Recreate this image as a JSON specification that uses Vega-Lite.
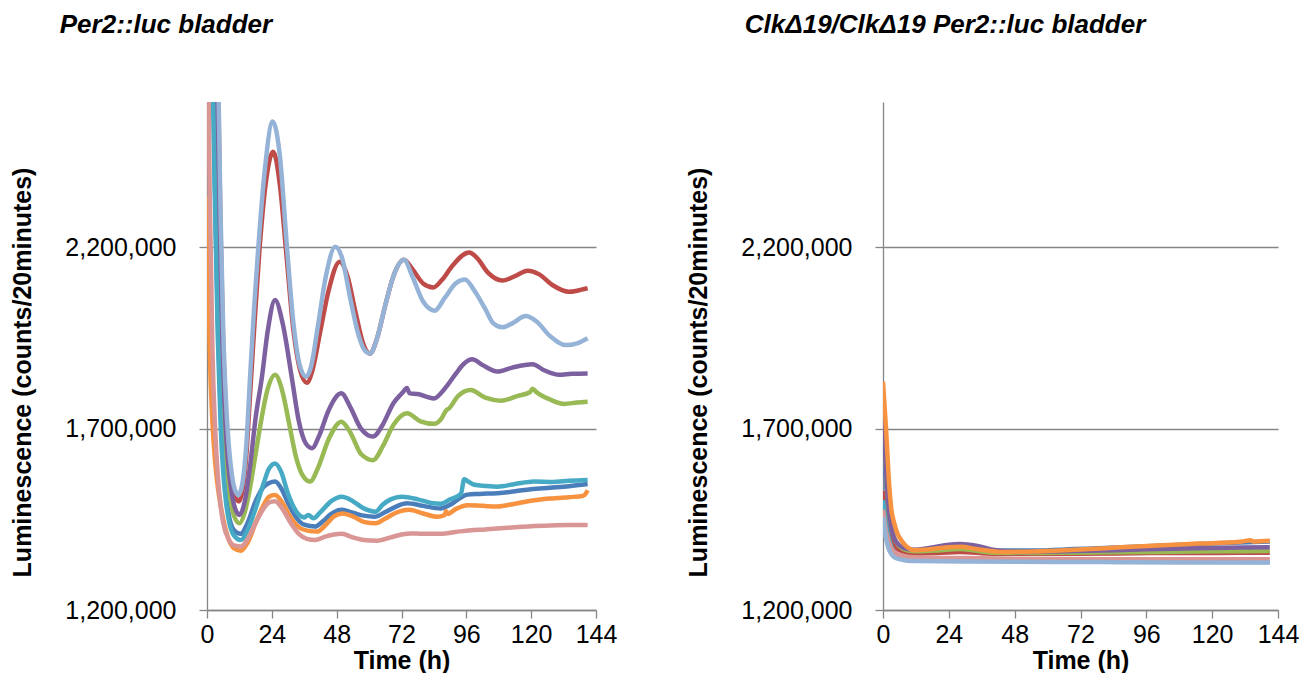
{
"$schema": "https://vega.github.io/schema/vega-lite/v6.json",
"background": "white",
"padding": {"left": 10, "top": 12, "right": 0, "bottom": 0},
"spacing": 69,
"config": {
  "font": "Liberation Sans",
  "view": {"stroke": null},
  "axis": {"domainColor": "#868686", "tickColor": "#868686", "gridColor": "#868686", "labelColor": "#000000", "titleColor": "#000000", "labelFont": "Liberation Sans", "titleFont": "Liberation Sans", "labelFontSize": 25, "titleFontSize": 25, "titleFontWeight": "bold", "tickSize": 8, "domainWidth": 1.3, "tickWidth": 1.3, "gridWidth": 1.3, "gridOpacity": 1, "labelFlush": false},
  "title": {"font": "Liberation Sans", "fontSize": 26, "fontWeight": "bold", "fontStyle": "italic", "anchor": "start", "color": "#000000", "offset": 64}
},
"datasets": {
"wt": [
{"s":"S1","t":0,"v":3700000},{"s":"S1","t":2,"v":2800000},{"s":"S1","t":3,"v":2350000},{"s":"S1","t":4,"v":2000000},{"s":"S1","t":5,"v":1760000},{"s":"S1","t":6,"v":1610000},{"s":"S1","t":7,"v":1520000},{"s":"S1","t":8,"v":1465000},{"s":"S1","t":10,"v":1420000},{"s":"S1","t":12.5,"v":1410000},{"s":"S1","t":15,"v":1440000},{"s":"S1","t":18,"v":1500000},{"s":"S1","t":21,"v":1540000},{"s":"S1","t":23,"v":1550000},{"s":"S1","t":25.2,"v":1554000},{"s":"S1","t":27.5,"v":1535000},{"s":"S1","t":30,"v":1495000},{"s":"S1","t":33,"v":1455000},{"s":"S1","t":36,"v":1435000},{"s":"S1","t":40,"v":1430000},{"s":"S1","t":43,"v":1445000},{"s":"S1","t":46,"v":1465000},{"s":"S1","t":49.9,"v":1476000},{"s":"S1","t":54,"v":1468000},{"s":"S1","t":58,"v":1460000},{"s":"S1","t":62,"v":1457000},{"s":"S1","t":66,"v":1470000},{"s":"S1","t":70,"v":1485000},{"s":"S1","t":74.1,"v":1494000},{"s":"S1","t":80,"v":1487000},{"s":"S1","t":86.5,"v":1480000},{"s":"S1","t":90,"v":1490000},{"s":"S1","t":93,"v":1505000},{"s":"S1","t":96.4,"v":1518000},{"s":"S1","t":101,"v":1520000},{"s":"S1","t":107.5,"v":1522000},{"s":"S1","t":114,"v":1527000},{"s":"S1","t":119.9,"v":1533000},{"s":"S1","t":127,"v":1537000},{"s":"S1","t":134,"v":1541000},{"s":"S1","t":140.9,"v":1547000},
{"s":"S2","t":0,"v":4300000},{"s":"S2","t":2,"v":3400000},{"s":"S2","t":4,"v":2700000},{"s":"S2","t":5,"v":2250000},{"s":"S2","t":6,"v":1930000},{"s":"S2","t":7,"v":1740000},{"s":"S2","t":8,"v":1630000},{"s":"S2","t":9,"v":1560000},{"s":"S2","t":10,"v":1520000},{"s":"S2","t":11.8,"v":1499000},{"s":"S2","t":13,"v":1525000},{"s":"S2","t":14.5,"v":1620000},{"s":"S2","t":16,"v":1800000},{"s":"S2","t":17.5,"v":1980000},{"s":"S2","t":19.5,"v":2200000},{"s":"S2","t":22,"v":2390000},{"s":"S2","t":24.5,"v":2463000},{"s":"S2","t":27,"v":2370000},{"s":"S2","t":29.5,"v":2170000},{"s":"S2","t":32,"v":1970000},{"s":"S2","t":34.5,"v":1860000},{"s":"S2","t":37,"v":1826000},{"s":"S2","t":39,"v":1860000},{"s":"S2","t":42,"v":1970000},{"s":"S2","t":45,"v":2080000},{"s":"S2","t":49.1,"v":2160000},{"s":"S2","t":52,"v":2120000},{"s":"S2","t":55,"v":2020000},{"s":"S2","t":58,"v":1930000},{"s":"S2","t":60.3,"v":1907000},{"s":"S2","t":63,"v":1950000},{"s":"S2","t":66,"v":2040000},{"s":"S2","t":69,"v":2120000},{"s":"S2","t":72.9,"v":2165000},{"s":"S2","t":76,"v":2140000},{"s":"S2","t":80,"v":2100000},{"s":"S2","t":83.8,"v":2089000},{"s":"S2","t":87,"v":2110000},{"s":"S2","t":91,"v":2150000},{"s":"S2","t":97,"v":2185000},{"s":"S2","t":100,"v":2170000},{"s":"S2","t":104,"v":2130000},{"s":"S2","t":109.4,"v":2108000},{"s":"S2","t":114,"v":2120000},{"s":"S2","t":118.7,"v":2135000},{"s":"S2","t":123,"v":2125000},{"s":"S2","t":128,"v":2095000},{"s":"S2","t":134,"v":2077000},{"s":"S2","t":137,"v":2080000},{"s":"S2","t":140.9,"v":2087000},
{"s":"S3","t":0,"v":3900000},{"s":"S3","t":2,"v":3000000},{"s":"S3","t":4,"v":2350000},{"s":"S3","t":5,"v":2000000},{"s":"S3","t":6,"v":1780000},{"s":"S3","t":7,"v":1630000},{"s":"S3","t":8,"v":1540000},{"s":"S3","t":9,"v":1490000},{"s":"S3","t":10,"v":1460000},{"s":"S3","t":12,"v":1439000},{"s":"S3","t":14,"v":1470000},{"s":"S3","t":16,"v":1540000},{"s":"S3","t":18,"v":1630000},{"s":"S3","t":20,"v":1720000},{"s":"S3","t":22.5,"v":1810000},{"s":"S3","t":25.2,"v":1848000},{"s":"S3","t":28,"v":1800000},{"s":"S3","t":30.5,"v":1710000},{"s":"S3","t":33,"v":1620000},{"s":"S3","t":35.5,"v":1570000},{"s":"S3","t":38.2,"v":1554000},{"s":"S3","t":41,"v":1590000},{"s":"S3","t":45,"v":1670000},{"s":"S3","t":49.7,"v":1719000},{"s":"S3","t":53,"v":1690000},{"s":"S3","t":57,"v":1630000},{"s":"S3","t":61.5,"v":1613000},{"s":"S3","t":65,"v":1650000},{"s":"S3","t":69,"v":1710000},{"s":"S3","t":74.1,"v":1742000},{"s":"S3","t":79,"v":1720000},{"s":"S3","t":84,"v":1713000},{"s":"S3","t":87,"v":1730000},{"s":"S3","t":88.5,"v":1750000},{"s":"S3","t":89.5,"v":1755000},{"s":"S3","t":93,"v":1790000},{"s":"S3","t":97.6,"v":1806000},{"s":"S3","t":103,"v":1785000},{"s":"S3","t":108.7,"v":1777000},{"s":"S3","t":115,"v":1790000},{"s":"S3","t":119.5,"v":1800000},{"s":"S3","t":120.5,"v":1810000},{"s":"S3","t":122,"v":1800000},{"s":"S3","t":127,"v":1780000},{"s":"S3","t":132.2,"v":1768000},{"s":"S3","t":137,"v":1772000},{"s":"S3","t":140.9,"v":1774000},
{"s":"S4","t":0,"v":4100000},{"s":"S4","t":2,"v":3200000},{"s":"S4","t":4,"v":2500000},{"s":"S4","t":5,"v":2100000},{"s":"S4","t":6,"v":1850000},{"s":"S4","t":7,"v":1690000},{"s":"S4","t":8,"v":1590000},{"s":"S4","t":9,"v":1530000},{"s":"S4","t":10,"v":1490000},{"s":"S4","t":12,"v":1462000},{"s":"S4","t":14,"v":1500000},{"s":"S4","t":16,"v":1600000},{"s":"S4","t":18,"v":1730000},{"s":"S4","t":20.3,"v":1840000},{"s":"S4","t":22.5,"v":1970000},{"s":"S4","t":25.2,"v":2054000},{"s":"S4","t":28,"v":1990000},{"s":"S4","t":31.4,"v":1840000},{"s":"S4","t":34,"v":1720000},{"s":"S4","t":36.5,"v":1660000},{"s":"S4","t":38.9,"v":1646000},{"s":"S4","t":41.5,"v":1680000},{"s":"S4","t":45,"v":1750000},{"s":"S4","t":49.7,"v":1797000},{"s":"S4","t":53,"v":1760000},{"s":"S4","t":57,"v":1700000},{"s":"S4","t":61.5,"v":1678000},{"s":"S4","t":65,"v":1710000},{"s":"S4","t":69,"v":1770000},{"s":"S4","t":72.5,"v":1800000},{"s":"S4","t":74,"v":1812000},{"s":"S4","t":75,"v":1797000},{"s":"S4","t":78,"v":1795000},{"s":"S4","t":84,"v":1783000},{"s":"S4","t":88,"v":1810000},{"s":"S4","t":92,"v":1850000},{"s":"S4","t":95,"v":1878000},{"s":"S4","t":98.2,"v":1891000},{"s":"S4","t":102,"v":1875000},{"s":"S4","t":107.5,"v":1857000},{"s":"S4","t":113,"v":1868000},{"s":"S4","t":120.5,"v":1877000},{"s":"S4","t":125,"v":1860000},{"s":"S4","t":130.4,"v":1848000},{"s":"S4","t":135,"v":1851000},{"s":"S4","t":140.9,"v":1852000},
{"s":"S5","t":0,"v":3600000},{"s":"S5","t":2,"v":2700000},{"s":"S5","t":3,"v":2300000},{"s":"S5","t":4,"v":1950000},{"s":"S5","t":5,"v":1720000},{"s":"S5","t":6,"v":1580000},{"s":"S5","t":7,"v":1500000},{"s":"S5","t":8,"v":1450000},{"s":"S5","t":10,"v":1405000},{"s":"S5","t":12.5,"v":1393000},{"s":"S5","t":15,"v":1420000},{"s":"S5","t":18,"v":1480000},{"s":"S5","t":21,"v":1550000},{"s":"S5","t":23,"v":1590000},{"s":"S5","t":25.2,"v":1604000},{"s":"S5","t":27.5,"v":1580000},{"s":"S5","t":30,"v":1520000},{"s":"S5","t":33,"v":1472000},{"s":"S5","t":36,"v":1455000},{"s":"S5","t":37.5,"v":1462000},{"s":"S5","t":39.4,"v":1453000},{"s":"S5","t":42,"v":1470000},{"s":"S5","t":46,"v":1500000},{"s":"S5","t":49.9,"v":1512000},{"s":"S5","t":54,"v":1500000},{"s":"S5","t":58,"v":1480000},{"s":"S5","t":62.4,"v":1471000},{"s":"S5","t":65,"v":1490000},{"s":"S5","t":68,"v":1505000},{"s":"S5","t":72.2,"v":1512000},{"s":"S5","t":78,"v":1505000},{"s":"S5","t":83,"v":1495000},{"s":"S5","t":86.5,"v":1493000},{"s":"S5","t":90,"v":1505000},{"s":"S5","t":94,"v":1520000},{"s":"S5","t":95.2,"v":1560000},{"s":"S5","t":96.5,"v":1555000},{"s":"S5","t":99,"v":1545000},{"s":"S5","t":103,"v":1542000},{"s":"S5","t":107.5,"v":1540000},{"s":"S5","t":114,"v":1547000},{"s":"S5","t":121,"v":1554000},{"s":"S5","t":128,"v":1553000},{"s":"S5","t":134,"v":1556000},{"s":"S5","t":140.9,"v":1558000},
{"s":"S6","t":0,"v":2340000},{"s":"S6","t":1,"v":1920000},{"s":"S6","t":2,"v":1720000},{"s":"S6","t":3,"v":1610000},{"s":"S6","t":4,"v":1540000},{"s":"S6","t":5,"v":1490000},{"s":"S6","t":6,"v":1450000},{"s":"S6","t":8,"v":1395000},{"s":"S6","t":10,"v":1370000},{"s":"S6","t":12.5,"v":1363000},{"s":"S6","t":15,"v":1385000},{"s":"S6","t":18,"v":1440000},{"s":"S6","t":21,"v":1490000},{"s":"S6","t":23,"v":1512000},{"s":"S6","t":25.2,"v":1517000},{"s":"S6","t":28,"v":1495000},{"s":"S6","t":31,"v":1455000},{"s":"S6","t":34,"v":1428000},{"s":"S6","t":37.5,"v":1418000},{"s":"S6","t":40.7,"v":1416000},{"s":"S6","t":44,"v":1435000},{"s":"S6","t":47,"v":1458000},{"s":"S6","t":50.2,"v":1466000},{"s":"S6","t":54,"v":1458000},{"s":"S6","t":58,"v":1443000},{"s":"S6","t":62.4,"v":1439000},{"s":"S6","t":66,"v":1452000},{"s":"S6","t":70,"v":1468000},{"s":"S6","t":74.7,"v":1476000},{"s":"S6","t":80,"v":1466000},{"s":"S6","t":85.2,"v":1457000},{"s":"S6","t":88,"v":1462000},{"s":"S6","t":88.5,"v":1472000},{"s":"S6","t":89.2,"v":1465000},{"s":"S6","t":92,"v":1478000},{"s":"S6","t":96.4,"v":1489000},{"s":"S6","t":102,"v":1487000},{"s":"S6","t":107.5,"v":1485000},{"s":"S6","t":114,"v":1493000},{"s":"S6","t":119.9,"v":1501000},{"s":"S6","t":127,"v":1507000},{"s":"S6","t":134,"v":1511000},{"s":"S6","t":139,"v":1514000},{"s":"S6","t":140.3,"v":1522000},{"s":"S6","t":140.9,"v":1530000},
{"s":"S7","t":0,"v":3000000},{"s":"S7","t":1,"v":2350000},{"s":"S7","t":2,"v":1920000},{"s":"S7","t":3,"v":1700000},{"s":"S7","t":4,"v":1570000},{"s":"S7","t":5,"v":1490000},{"s":"S7","t":6,"v":1440000},{"s":"S7","t":8,"v":1395000},{"s":"S7","t":10,"v":1378000},{"s":"S7","t":12.5,"v":1375000},{"s":"S7","t":15,"v":1395000},{"s":"S7","t":18,"v":1440000},{"s":"S7","t":21,"v":1480000},{"s":"S7","t":23,"v":1496000},{"s":"S7","t":25.2,"v":1500000},{"s":"S7","t":28,"v":1478000},{"s":"S7","t":31,"v":1440000},{"s":"S7","t":34,"v":1410000},{"s":"S7","t":37,"v":1396000},{"s":"S7","t":40,"v":1393000},{"s":"S7","t":44,"v":1403000},{"s":"S7","t":47,"v":1408000},{"s":"S7","t":49.9,"v":1410000},{"s":"S7","t":54,"v":1400000},{"s":"S7","t":58,"v":1393000},{"s":"S7","t":63,"v":1391000},{"s":"S7","t":68,"v":1400000},{"s":"S7","t":72,"v":1408000},{"s":"S7","t":75.4,"v":1411000},{"s":"S7","t":80,"v":1410000},{"s":"S7","t":86.5,"v":1410000},{"s":"S7","t":92,"v":1415000},{"s":"S7","t":97.6,"v":1420000},{"s":"S7","t":103,"v":1422000},{"s":"S7","t":108.7,"v":1425000},{"s":"S7","t":114,"v":1428000},{"s":"S7","t":119.9,"v":1431000},{"s":"S7","t":127,"v":1433000},{"s":"S7","t":134,"v":1434000},{"s":"S7","t":140.9,"v":1434000},
{"s":"S8","t":0,"v":4500000},{"s":"S8","t":2,"v":3500000},{"s":"S8","t":4,"v":2750000},{"s":"S8","t":5,"v":2300000},{"s":"S8","t":6,"v":1970000},{"s":"S8","t":7,"v":1780000},{"s":"S8","t":8,"v":1660000},{"s":"S8","t":9,"v":1585000},{"s":"S8","t":10,"v":1540000},{"s":"S8","t":11.6,"v":1517000},{"s":"S8","t":13,"v":1545000},{"s":"S8","t":14.5,"v":1650000},{"s":"S8","t":16,"v":1850000},{"s":"S8","t":17.5,"v":2040000},{"s":"S8","t":19,"v":2200000},{"s":"S8","t":21.5,"v":2420000},{"s":"S8","t":24.3,"v":2546000},{"s":"S8","t":27,"v":2450000},{"s":"S8","t":29.6,"v":2200000},{"s":"S8","t":32,"v":1990000},{"s":"S8","t":34.5,"v":1870000},{"s":"S8","t":36.7,"v":1843000},{"s":"S8","t":38.5,"v":1870000},{"s":"S8","t":41,"v":1980000},{"s":"S8","t":44,"v":2120000},{"s":"S8","t":47.5,"v":2201000},{"s":"S8","t":50,"v":2170000},{"s":"S8","t":53,"v":2060000},{"s":"S8","t":56,"v":1960000},{"s":"S8","t":58,"v":1920000},{"s":"S8","t":60.3,"v":1907000},{"s":"S8","t":63,"v":1950000},{"s":"S8","t":66,"v":2040000},{"s":"S8","t":69,"v":2120000},{"s":"S8","t":72.9,"v":2165000},{"s":"S8","t":76,"v":2120000},{"s":"S8","t":80,"v":2050000},{"s":"S8","t":84.3,"v":2025000},{"s":"S8","t":88,"v":2060000},{"s":"S8","t":92,"v":2100000},{"s":"S8","t":95.5,"v":2111000},{"s":"S8","t":99,"v":2080000},{"s":"S8","t":103,"v":2030000},{"s":"S8","t":106,"v":1990000},{"s":"S8","t":109.4,"v":1979000},{"s":"S8","t":113,"v":1990000},{"s":"S8","t":118,"v":2010000},{"s":"S8","t":122,"v":1995000},{"s":"S8","t":127,"v":1955000},{"s":"S8","t":132.9,"v":1930000},{"s":"S8","t":137,"v":1935000},{"s":"S8","t":140.9,"v":1949000}
],
"clk": [
{"s":"S1","t":0,"v":1673000},{"s":"S1","t":1,"v":1560000},{"s":"S1","t":2,"v":1470000},{"s":"S1","t":3,"v":1420000},{"s":"S1","t":4,"v":1395000},{"s":"S1","t":6,"v":1372000},{"s":"S1","t":9,"v":1363000},{"s":"S1","t":12,"v":1361000},{"s":"S1","t":20,"v":1364000},{"s":"S1","t":28,"v":1368000},{"s":"S1","t":40,"v":1364000},{"s":"S1","t":55,"v":1364000},{"s":"S1","t":70,"v":1368000},{"s":"S1","t":85,"v":1372000},{"s":"S1","t":100,"v":1377000},{"s":"S1","t":115,"v":1382000},{"s":"S1","t":130,"v":1386000},{"s":"S1","t":141,"v":1389000},
{"s":"S2","t":0,"v":1528000},{"s":"S2","t":1,"v":1470000},{"s":"S2","t":2,"v":1425000},{"s":"S2","t":3,"v":1395000},{"s":"S2","t":4,"v":1378000},{"s":"S2","t":6,"v":1365000},{"s":"S2","t":9,"v":1358000},{"s":"S2","t":12,"v":1356000},{"s":"S2","t":20,"v":1357000},{"s":"S2","t":28,"v":1360000},{"s":"S2","t":40,"v":1355000},{"s":"S2","t":55,"v":1355000},{"s":"S2","t":70,"v":1355000},{"s":"S2","t":85,"v":1356000},{"s":"S2","t":100,"v":1357000},{"s":"S2","t":115,"v":1357000},{"s":"S2","t":130,"v":1358000},{"s":"S2","t":141,"v":1358000},
{"s":"S3","t":0,"v":1740000},{"s":"S3","t":1,"v":1600000},{"s":"S3","t":2,"v":1490000},{"s":"S3","t":3,"v":1430000},{"s":"S3","t":4,"v":1400000},{"s":"S3","t":6,"v":1375000},{"s":"S3","t":9,"v":1364000},{"s":"S3","t":12,"v":1362000},{"s":"S3","t":20,"v":1364000},{"s":"S3","t":28,"v":1368000},{"s":"S3","t":40,"v":1358000},{"s":"S3","t":55,"v":1357000},{"s":"S3","t":70,"v":1358000},{"s":"S3","t":85,"v":1359000},{"s":"S3","t":100,"v":1360000},{"s":"S3","t":115,"v":1361000},{"s":"S3","t":130,"v":1362000},{"s":"S3","t":141,"v":1363000},
{"s":"S4","t":0,"v":1730000},{"s":"S4","t":1,"v":1600000},{"s":"S4","t":2,"v":1490000},{"s":"S4","t":3,"v":1430000},{"s":"S4","t":4,"v":1400000},{"s":"S4","t":6,"v":1378000},{"s":"S4","t":9,"v":1368000},{"s":"S4","t":12,"v":1366000},{"s":"S4","t":18,"v":1372000},{"s":"S4","t":24,"v":1380000},{"s":"S4","t":28,"v":1382000},{"s":"S4","t":34,"v":1377000},{"s":"S4","t":40,"v":1366000},{"s":"S4","t":48,"v":1360000},{"s":"S4","t":60,"v":1361000},{"s":"S4","t":75,"v":1363000},{"s":"S4","t":90,"v":1366000},{"s":"S4","t":105,"v":1369000},{"s":"S4","t":120,"v":1371000},{"s":"S4","t":141,"v":1373000},
{"s":"S5","t":0,"v":1503000},{"s":"S5","t":1,"v":1440000},{"s":"S5","t":2,"v":1400000},{"s":"S5","t":3,"v":1375000},{"s":"S5","t":4,"v":1360000},{"s":"S5","t":6,"v":1348000},{"s":"S5","t":9,"v":1342000},{"s":"S5","t":12,"v":1340000},{"s":"S5","t":30,"v":1338000},{"s":"S5","t":50,"v":1336000},{"s":"S5","t":80,"v":1334000},{"s":"S5","t":110,"v":1333000},{"s":"S5","t":141,"v":1332000},
{"s":"S6","t":0,"v":1829000},{"s":"S6","t":1.1,"v":1700000},{"s":"S6","t":2.3,"v":1540000},{"s":"S6","t":3,"v":1480000},{"s":"S6","t":4.1,"v":1439000},{"s":"S6","t":5.3,"v":1410000},{"s":"S6","t":6.6,"v":1393000},{"s":"S6","t":9,"v":1372000},{"s":"S6","t":11.4,"v":1365000},{"s":"S6","t":15,"v":1366000},{"s":"S6","t":19.9,"v":1370000},{"s":"S6","t":24,"v":1373000},{"s":"S6","t":28.4,"v":1374000},{"s":"S6","t":34,"v":1368000},{"s":"S6","t":43,"v":1360000},{"s":"S6","t":55,"v":1361000},{"s":"S6","t":70,"v":1366000},{"s":"S6","t":85,"v":1372000},{"s":"S6","t":100,"v":1378000},{"s":"S6","t":115,"v":1383000},{"s":"S6","t":130,"v":1388000},{"s":"S6","t":134,"v":1392000},{"s":"S6","t":135,"v":1389000},{"s":"S6","t":141,"v":1391000},
{"s":"S7","t":0,"v":1476000},{"s":"S7","t":1,"v":1420000},{"s":"S7","t":2,"v":1390000},{"s":"S7","t":3,"v":1370000},{"s":"S7","t":4,"v":1360000},{"s":"S7","t":6,"v":1352000},{"s":"S7","t":9,"v":1347000},{"s":"S7","t":12,"v":1345000},{"s":"S7","t":30,"v":1343000},{"s":"S7","t":50,"v":1341000},{"s":"S7","t":80,"v":1340000},{"s":"S7","t":110,"v":1340000},{"s":"S7","t":141,"v":1340000},
{"s":"S8","t":0,"v":1457000},{"s":"S8","t":1,"v":1400000},{"s":"S8","t":2,"v":1370000},{"s":"S8","t":3,"v":1355000},{"s":"S8","t":4,"v":1346000},{"s":"S8","t":6,"v":1340000},{"s":"S8","t":9,"v":1336000},{"s":"S8","t":12,"v":1335000},{"s":"S8","t":30,"v":1334000},{"s":"S8","t":50,"v":1333000},{"s":"S8","t":80,"v":1332000},{"s":"S8","t":110,"v":1331000},{"s":"S8","t":141,"v":1331000}
]
},
"hconcat": [
{
  "width": 389, "height": 508,
  "data": {"name": "wt"},
  "title": {"text": "Per2::luc bladder", "dx": 49},
  "mark": {"type": "line", "clip": true, "strokeWidth": 4.5, "interpolate": "monotone"},
  "encoding": {
    "x": {"field": "t", "type": "quantitative", "scale": {"domain": [0, 144], "nice": false}, "axis": {"values": [0, 24, 48, 72, 96, 120, 144], "title": "Time (h)", "grid": false, "labelPadding": 4, "titlePadding": 1}},
    "y": {"field": "v", "type": "quantitative", "scale": {"domain": [1200000, 2600000], "nice": false, "zero": false}, "axis": {"values": [1200000, 1700000, 2200000], "format": ",.0f", "title": "Luminescence (counts/20minutes)", "grid": true, "labelPadding": 23, "titlePadding": 29, "titleY": 270}},
    "color": {"field": "s", "type": "nominal", "scale": {"domain": ["S1","S2","S3","S4","S5","S6","S7","S8"], "range": ["#4A7EBB","#BE4B48","#98B954","#7D60A0","#46AAC5","#F69240","#D99694","#95B3D7"]}, "legend": null}
  }
},
{
  "width": 395, "height": 508,
  "data": {"name": "clk"},
  "title": {"text": "ClkΔ19/ClkΔ19 Per2::luc bladder", "dx": 58},
  "mark": {"type": "line", "clip": true, "strokeWidth": 4.5, "interpolate": "monotone"},
  "encoding": {
    "x": {"field": "t", "type": "quantitative", "scale": {"domain": [0, 144], "nice": false}, "axis": {"values": [0, 24, 48, 72, 96, 120, 144], "title": "Time (h)", "grid": false, "labelPadding": 4, "titlePadding": 1}},
    "y": {"field": "v", "type": "quantitative", "scale": {"domain": [1200000, 2600000], "nice": false, "zero": false}, "axis": {"values": [1200000, 1700000, 2200000], "format": ",.0f", "title": "Luminescence (counts/20minutes)", "grid": true, "labelPadding": 23, "titlePadding": 29, "titleY": 270}},
    "color": {"field": "s", "type": "nominal", "scale": {"domain": ["S1","S2","S3","S4","S5","S6","S7","S8"], "range": ["#4A7EBB","#BE4B48","#98B954","#7D60A0","#46AAC5","#F69240","#D99694","#95B3D7"]}, "legend": null}
  }
}
]
}
